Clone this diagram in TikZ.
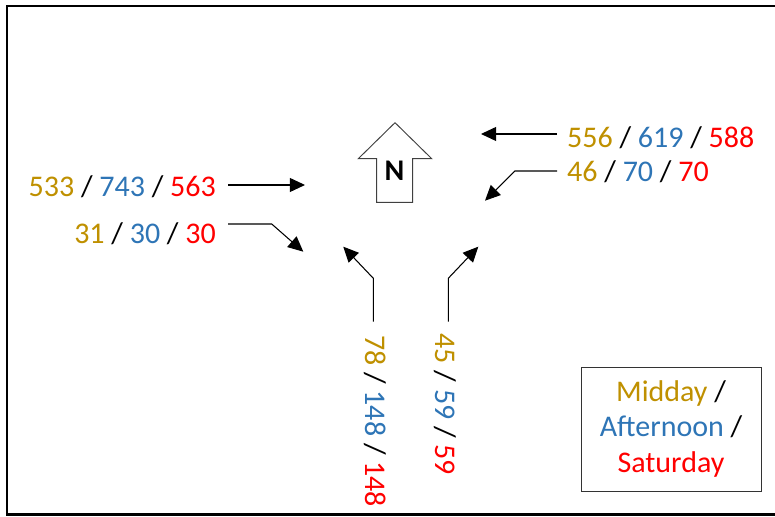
\documentclass[tikz,border=0pt]{standalone}
\usepackage{fontspec}
\setmainfont{Carlito}
\usetikzlibrary{arrows.meta}
\definecolor{midi}{RGB}{191,144,0}
\definecolor{apresmidi}{RGB}{46,117,182}
\definecolor{samedi}{RGB}{255,0,0}
\newcommand{\trio}[3]{\textcolor{midi}{#1} / \textcolor{apresmidi}{#2} / \textcolor{samedi}{#3}}
\tikzset{
  compte/.style={font=\fontsize{25.6}{30.6}\selectfont, inner sep=0pt},
  fleche/.style={black, line width=0.9pt, -{Triangle[length=13pt,width=12pt]}}
}

\begin{document}
\begin{tikzpicture}[x=0.03cm,y=0.03cm]
  \useasboundingbox (0,0) rectangle (775,517);

  % cadre (ouvert à droite)
  \draw[line width=2pt] (790,511) -- (7,511) -- (7,2.5) -- (790,2.5);

  % flèche du nord
  \draw[black!75,line width=0.8pt,fill=white] (376.7,314.7) -- (376.7,358.3) -- (358.3,358.3)
    -- (395,394.3) -- (431.7,358.3) -- (412.7,358.3) -- (412.7,314.7) -- cycle;
  \node[font=\fontsize{25.6}{30}\selectfont\bfseries,inner sep=0pt] (nord) at (394.5,345.8) {N};

  % comptages par branche
  \node[compte,anchor=base west] (est-haut) at (567,369.7) {\trio{556}{619}{588}};
  \node[compte,anchor=base west] (est-bas) at (567,335.3) {\trio{46}{70}{70}};
  \node[compte,anchor=base east] (ouest-haut) at (216,320.5) {\trio{533}{743}{563}};
  \node[compte,anchor=base east] (ouest-bas) at (216,273.7) {\trio{31}{30}{30}};
  \node[compte,anchor=base west,rotate=-90] (sud-gauche) at (365,182) {\trio{78}{148}{148}};
  \node[compte,anchor=base west,rotate=-90] (sud-droite) at (435,183.7) {\trio{45}{59}{59}};

  % mouvements
  \coordinate (e1) at (557,383);   \coordinate (e1f) at (481,383);
  \coordinate (e2) at (557,346);   \coordinate (e2c) at (515,346);   \coordinate (e2f) at (485,316.3);
  \coordinate (o1) at (228,332);   \coordinate (o1f) at (305,332);
  \coordinate (o2) at (228,293);   \coordinate (o2c) at (271.7,293); \coordinate (o2f) at (303.3,265.3);
  \coordinate (s1) at (373.3,195.3); \coordinate (s1c) at (373.3,238.7); \coordinate (s1f) at (343.3,270.3);
  \coordinate (s2) at (448.3,195.3); \coordinate (s2c) at (448.3,238.7); \coordinate (s2f) at (478.3,270.3);

  \draw[fleche] (e1) -- (e1f);
  \draw[fleche] (e2) -- (e2c) -- (e2f);
  \draw[fleche] (o1) -- (o1f);
  \draw[fleche] (o2) -- (o2c) -- (o2f);
  \draw[fleche] (s1) -- (s1c) -- (s1f);
  \draw[fleche] (s2) -- (s2c) -- (s2f);

  % légende
  \node[compte,draw=black!80,line width=0.8pt,minimum width=5.4cm,minimum height=3.72cm,align=center] (legende) at (671,88)
    {\textcolor{midi}{Midday} /\\ \textcolor{apresmidi}{Afternoon} /\\ \textcolor{samedi}{Saturday}};
\end{tikzpicture}
\end{document}
